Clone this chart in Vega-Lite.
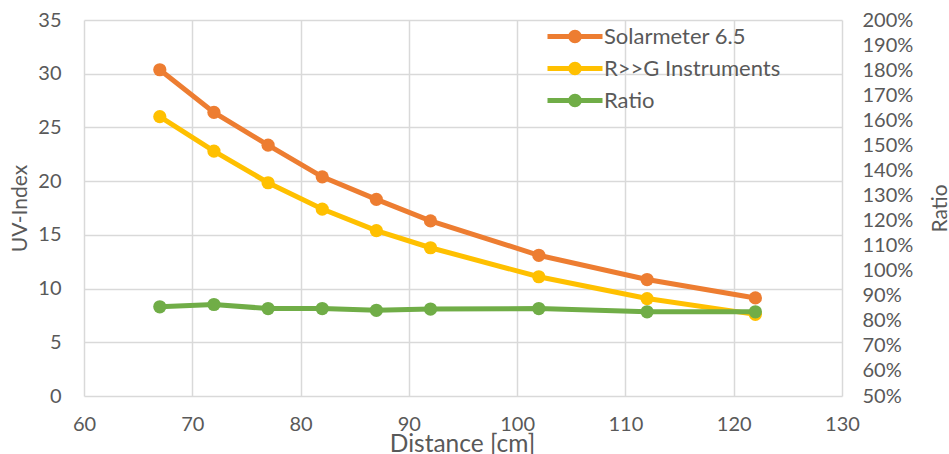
{
  "$schema": "https://vega.github.io/schema/vega-lite/v6.json",
  "width": 758,
  "height": 376,
  "autosize": {"type": "none"},
  "padding": {"left": 84, "top": 20, "right": 107, "bottom": 58},
  "background": "white",
  "config": {
    "font": "Lato",
    "view": {"stroke": null},
    "axis": {
      "labelFont": "Lato", "titleFont": "Lato",
      "labelFontSize": 20, "titleFontSize": 21,
      "labelColor": "#595959", "titleColor": "#595959",
      "titleFontWeight": "normal", "labelFlush": false,
      "ticks": false, "domain": false,
      "gridColor": "#d9d9d9", "gridWidth": 1.5
    },
    "legend": {"labelFont": "Lato", "labelFontSize": 22, "labelColor": "#595959", "labelLimit": 400}
  },
  "data": {"values": [
    {"distance": 67, "series": "Solarmeter 6.5", "value": 30.37},
    {"distance": 72, "series": "Solarmeter 6.5", "value": 26.4},
    {"distance": 77, "series": "Solarmeter 6.5", "value": 23.35},
    {"distance": 82, "series": "Solarmeter 6.5", "value": 20.4},
    {"distance": 87, "series": "Solarmeter 6.5", "value": 18.3},
    {"distance": 92, "series": "Solarmeter 6.5", "value": 16.3},
    {"distance": 102, "series": "Solarmeter 6.5", "value": 13.1},
    {"distance": 112, "series": "Solarmeter 6.5", "value": 10.84},
    {"distance": 122, "series": "Solarmeter 6.5", "value": 9.13},
    {"distance": 67, "series": "R>>G Instruments", "value": 26.0},
    {"distance": 72, "series": "R>>G Instruments", "value": 22.8},
    {"distance": 77, "series": "R>>G Instruments", "value": 19.85},
    {"distance": 82, "series": "R>>G Instruments", "value": 17.4},
    {"distance": 87, "series": "R>>G Instruments", "value": 15.4},
    {"distance": 92, "series": "R>>G Instruments", "value": 13.8},
    {"distance": 102, "series": "R>>G Instruments", "value": 11.1},
    {"distance": 112, "series": "R>>G Instruments", "value": 9.07},
    {"distance": 122, "series": "R>>G Instruments", "value": 7.6},
    {"distance": 67, "series": "Ratio", "value": 0.856},
    {"distance": 72, "series": "Ratio", "value": 0.865},
    {"distance": 77, "series": "Ratio", "value": 0.849},
    {"distance": 82, "series": "Ratio", "value": 0.849},
    {"distance": 87, "series": "Ratio", "value": 0.842},
    {"distance": 92, "series": "Ratio", "value": 0.847},
    {"distance": 102, "series": "Ratio", "value": 0.849},
    {"distance": 112, "series": "Ratio", "value": 0.836},
    {"distance": 122, "series": "Ratio", "value": 0.836}
  ]},
  "encoding": {
    "x": {
      "field": "distance", "type": "quantitative",
      "scale": {"domain": [60, 130], "nice": false, "zero": false},
      "axis": {
        "title": "Distance [cm]", "values": [60, 70, 80, 90, 100, 110, 120, 130],
        "labelPadding": 18, "titleX": 378, "titleY": 55, "titleBaseline": "alphabetic",
        "titleAnchor": null, "titleFontSize": 24.5
      }
    },
    "color": {
      "field": "series", "type": "nominal",
      "scale": {"domain": ["Solarmeter 6.5", "R>>G Instruments", "Ratio"], "range": ["#ED7D31", "#FFC000", "#70AD47"]},
      "legend": {
        "title": null, "orient": "none", "legendX": 480, "legendY": 5.5,
        "symbolType": "M-3.93,-0.34H3.93V0.34H-3.93Z M-0.964,0A0.964,0.964 0 1,1 0.964,0A0.964,0.964 0 1,1 -0.964,0Z",
        "symbolSize": 196, "symbolStrokeWidth": 0, "labelOffset": 18, "rowPadding": 10,
        "encode": {"symbols": {"update": {"fill": {"scale": "color", "field": "value"}, "strokeWidth": {"value": 0}, "opacity": {"value": 1}}}}
      }
    }
  },
  "layer": [
    {
      "transform": [{"filter": "datum.series != 'Ratio'"}],
      "mark": {"type": "line", "strokeWidth": 5, "point": {"filled": true, "size": 175, "opacity": 1}},
      "encoding": {
        "y": {
          "field": "value", "type": "quantitative",
          "scale": {"domain": [0, 35], "nice": false},
          "axis": {
            "title": "UV-Index", "values": [0, 5, 10, 15, 20, 25, 30, 35], "labelPadding": 23,
            "titleAngle": -90, "titleX": -64, "titleY": 188, "titleAlign": "center", "titleBaseline": "middle"
          }
        }
      }
    },
    {
      "transform": [{"filter": "datum.series == 'Ratio'"}],
      "mark": {"type": "line", "strokeWidth": 5, "point": {"filled": true, "size": 175, "opacity": 1}},
      "encoding": {
        "y": {
          "field": "value", "type": "quantitative",
          "scale": {"domain": [0.5, 2.0], "nice": false, "zero": false},
          "axis": {
            "title": "Ratio", "orient": "right", "format": ".0%", "grid": false,
            "values": [0.5, 0.6, 0.7, 0.8, 0.9, 1.0, 1.1, 1.2, 1.3, 1.4, 1.5, 1.6, 1.7, 1.8, 1.9, 2.0],
            "labelPadding": 20, "titleAngle": -90, "titleX": 98, "titleY": 188, "titleAlign": "center", "titleBaseline": "middle"
          }
        }
      }
    }
  ],
  "resolve": {"scale": {"y": "independent"}}
}
